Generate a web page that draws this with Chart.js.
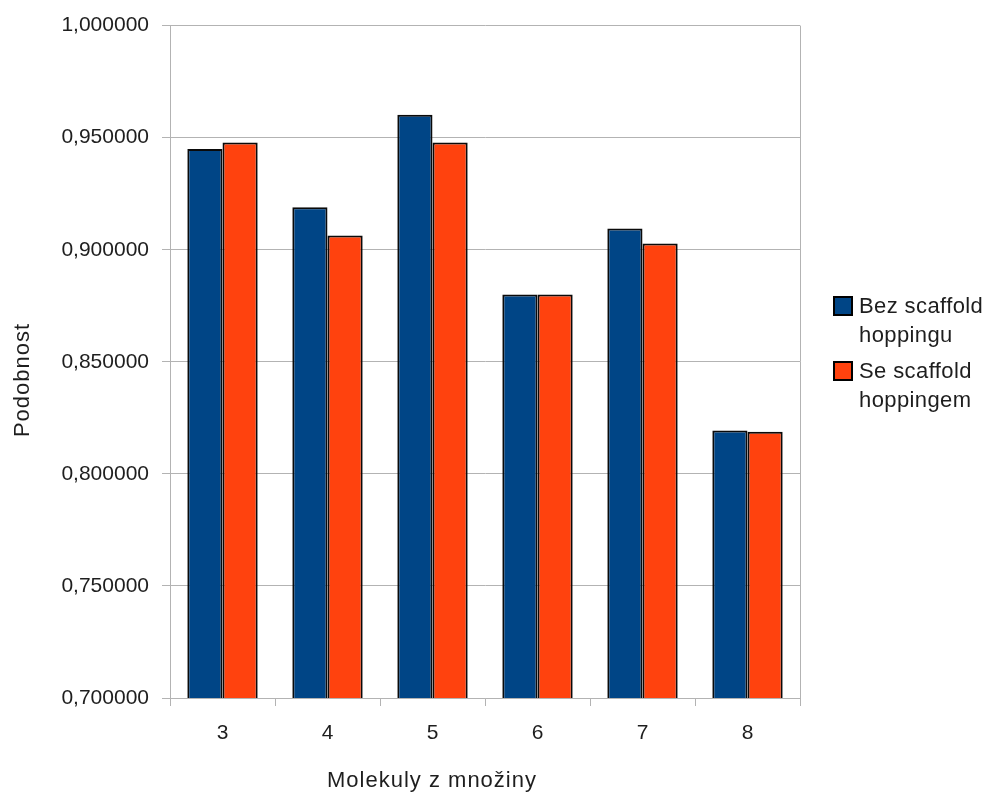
<!DOCTYPE html>
<html>
<head>
<meta charset="utf-8">
<script src="https://cdn.jsdelivr.net/npm/chart.js@4.4.1/dist/chart.umd.min.js"></script>
<style>
  html, body { margin: 0; padding: 0; background: #ffffff; }
  #wrap { width: 990px; height: 799px; position: relative; }
</style>
</head>
<body>
<div id="wrap"><canvas id="c" width="990" height="799"></canvas></div>
<script>
// Molecule counts in the set
const categories = ['3', '4', '5', '6', '7', '8'];
// Similarity without scaffold hopping
const bezScaffold = [0.9449, 0.9190, 0.9602, 0.8800, 0.9095, 0.8194];
// Similarity with scaffold hopping
const seScaffold = [0.9478, 0.9064, 0.9478, 0.8800, 0.9028, 0.8188];
const seriesNames = [['Bez scaffold', 'hoppingu'], ['Se scaffold', 'hoppingem']];
const xTitle = 'Molekuly z množiny';
const yTitle = 'Podobnost';

const FONT = 'Liberation Sans, Arial, sans-serif';
const TEXT = '#1e1e1e';
const GRID = '#b3b3b3';
const COLORS = ['#004586', '#ff420e'];

// Draws the frame line on the right, both axis titles and the legend
const decorations = {
  id: 'decorations',
  afterDraw(chart) {
    const ctx = chart.ctx;
    const a = chart.chartArea;
    ctx.save();
    ctx.strokeStyle = GRID;
    ctx.lineWidth = 1;
    ctx.beginPath();
    ctx.moveTo(Math.round(a.right) + 0.5, a.top);
    ctx.lineTo(Math.round(a.right) + 0.5, a.bottom);
    ctx.stroke();

    ctx.fillStyle = TEXT;
    ctx.font = '22px ' + FONT;
    ctx.letterSpacing = '1px';
    ctx.textAlign = 'center';
    ctx.textBaseline = 'middle';
    ctx.fillText(xTitle, a.left + 262, 781);

    ctx.save();
    ctx.translate(23, 380);
    ctx.rotate(-Math.PI / 2);
    ctx.fillText(yTitle, 0, 0);
    ctx.restore();

    // legend
    ctx.letterSpacing = '0.4px';
    const lx = a.right + 34;
    const tops = [297, 362];
    ctx.textAlign = 'left';
    seriesNames.forEach((lines, i) => {
      const y = tops[i];
      ctx.fillStyle = COLORS[i];
      ctx.fillRect(lx, y, 18, 18);
      ctx.strokeStyle = '#000000';
      ctx.lineWidth = 2;
      ctx.strokeRect(lx, y, 18, 18);
      ctx.fillStyle = TEXT;
      lines.forEach((t, j) => ctx.fillText(t, lx + 25, y + 10 + j * 29));
    });
    ctx.restore();
  }
};

new Chart(document.getElementById('c'), {
  type: 'bar',
  data: {
    labels: categories,
    datasets: [
      { label: seriesNames[0].join(' '), data: bezScaffold, backgroundColor: COLORS[0] },
      { label: seriesNames[1].join(' '), data: seScaffold, backgroundColor: COLORS[1] }
    ]
  },
  options: {
    responsive: false,
    animation: false,
    layout: { padding: { top: 23, right: 190, left: 0, bottom: 0 } },
    datasets: {
      bar: {
        categoryPercentage: 0.67,
        barPercentage: 1.0,
        borderColor: '#0a0a0a',
        borderWidth: 2,
        borderSkipped: false
      }
    },
    plugins: {
      legend: { display: false },
      tooltip: { enabled: false }
    },
    scales: {
      x: {
        grid: {
          offset: true,
          drawOnChartArea: false,
          drawTicks: true,
          tickLength: 8,
          color: GRID
        },
        border: { display: true, color: GRID },
        ticks: { color: TEXT, font: { family: FONT, size: 21 }, padding: 15 },
        afterFit(s) { s.height = 101; }
      },
      y: {
        min: 0.7,
        max: 1.0,
        ticks: {
          stepSize: 0.05,
          color: TEXT,
          font: { family: FONT, size: 21 },
          padding: 13,
          callback: v => v.toFixed(6).replace('.', ',')
        },
        grid: { color: GRID, tickLength: 8, drawTicks: true },
        border: { display: true, color: GRID },
        afterFit(s) { s.width = 170; }
      }
    }
  },
  plugins: [decorations]
});
</script>
</body>
</html>
